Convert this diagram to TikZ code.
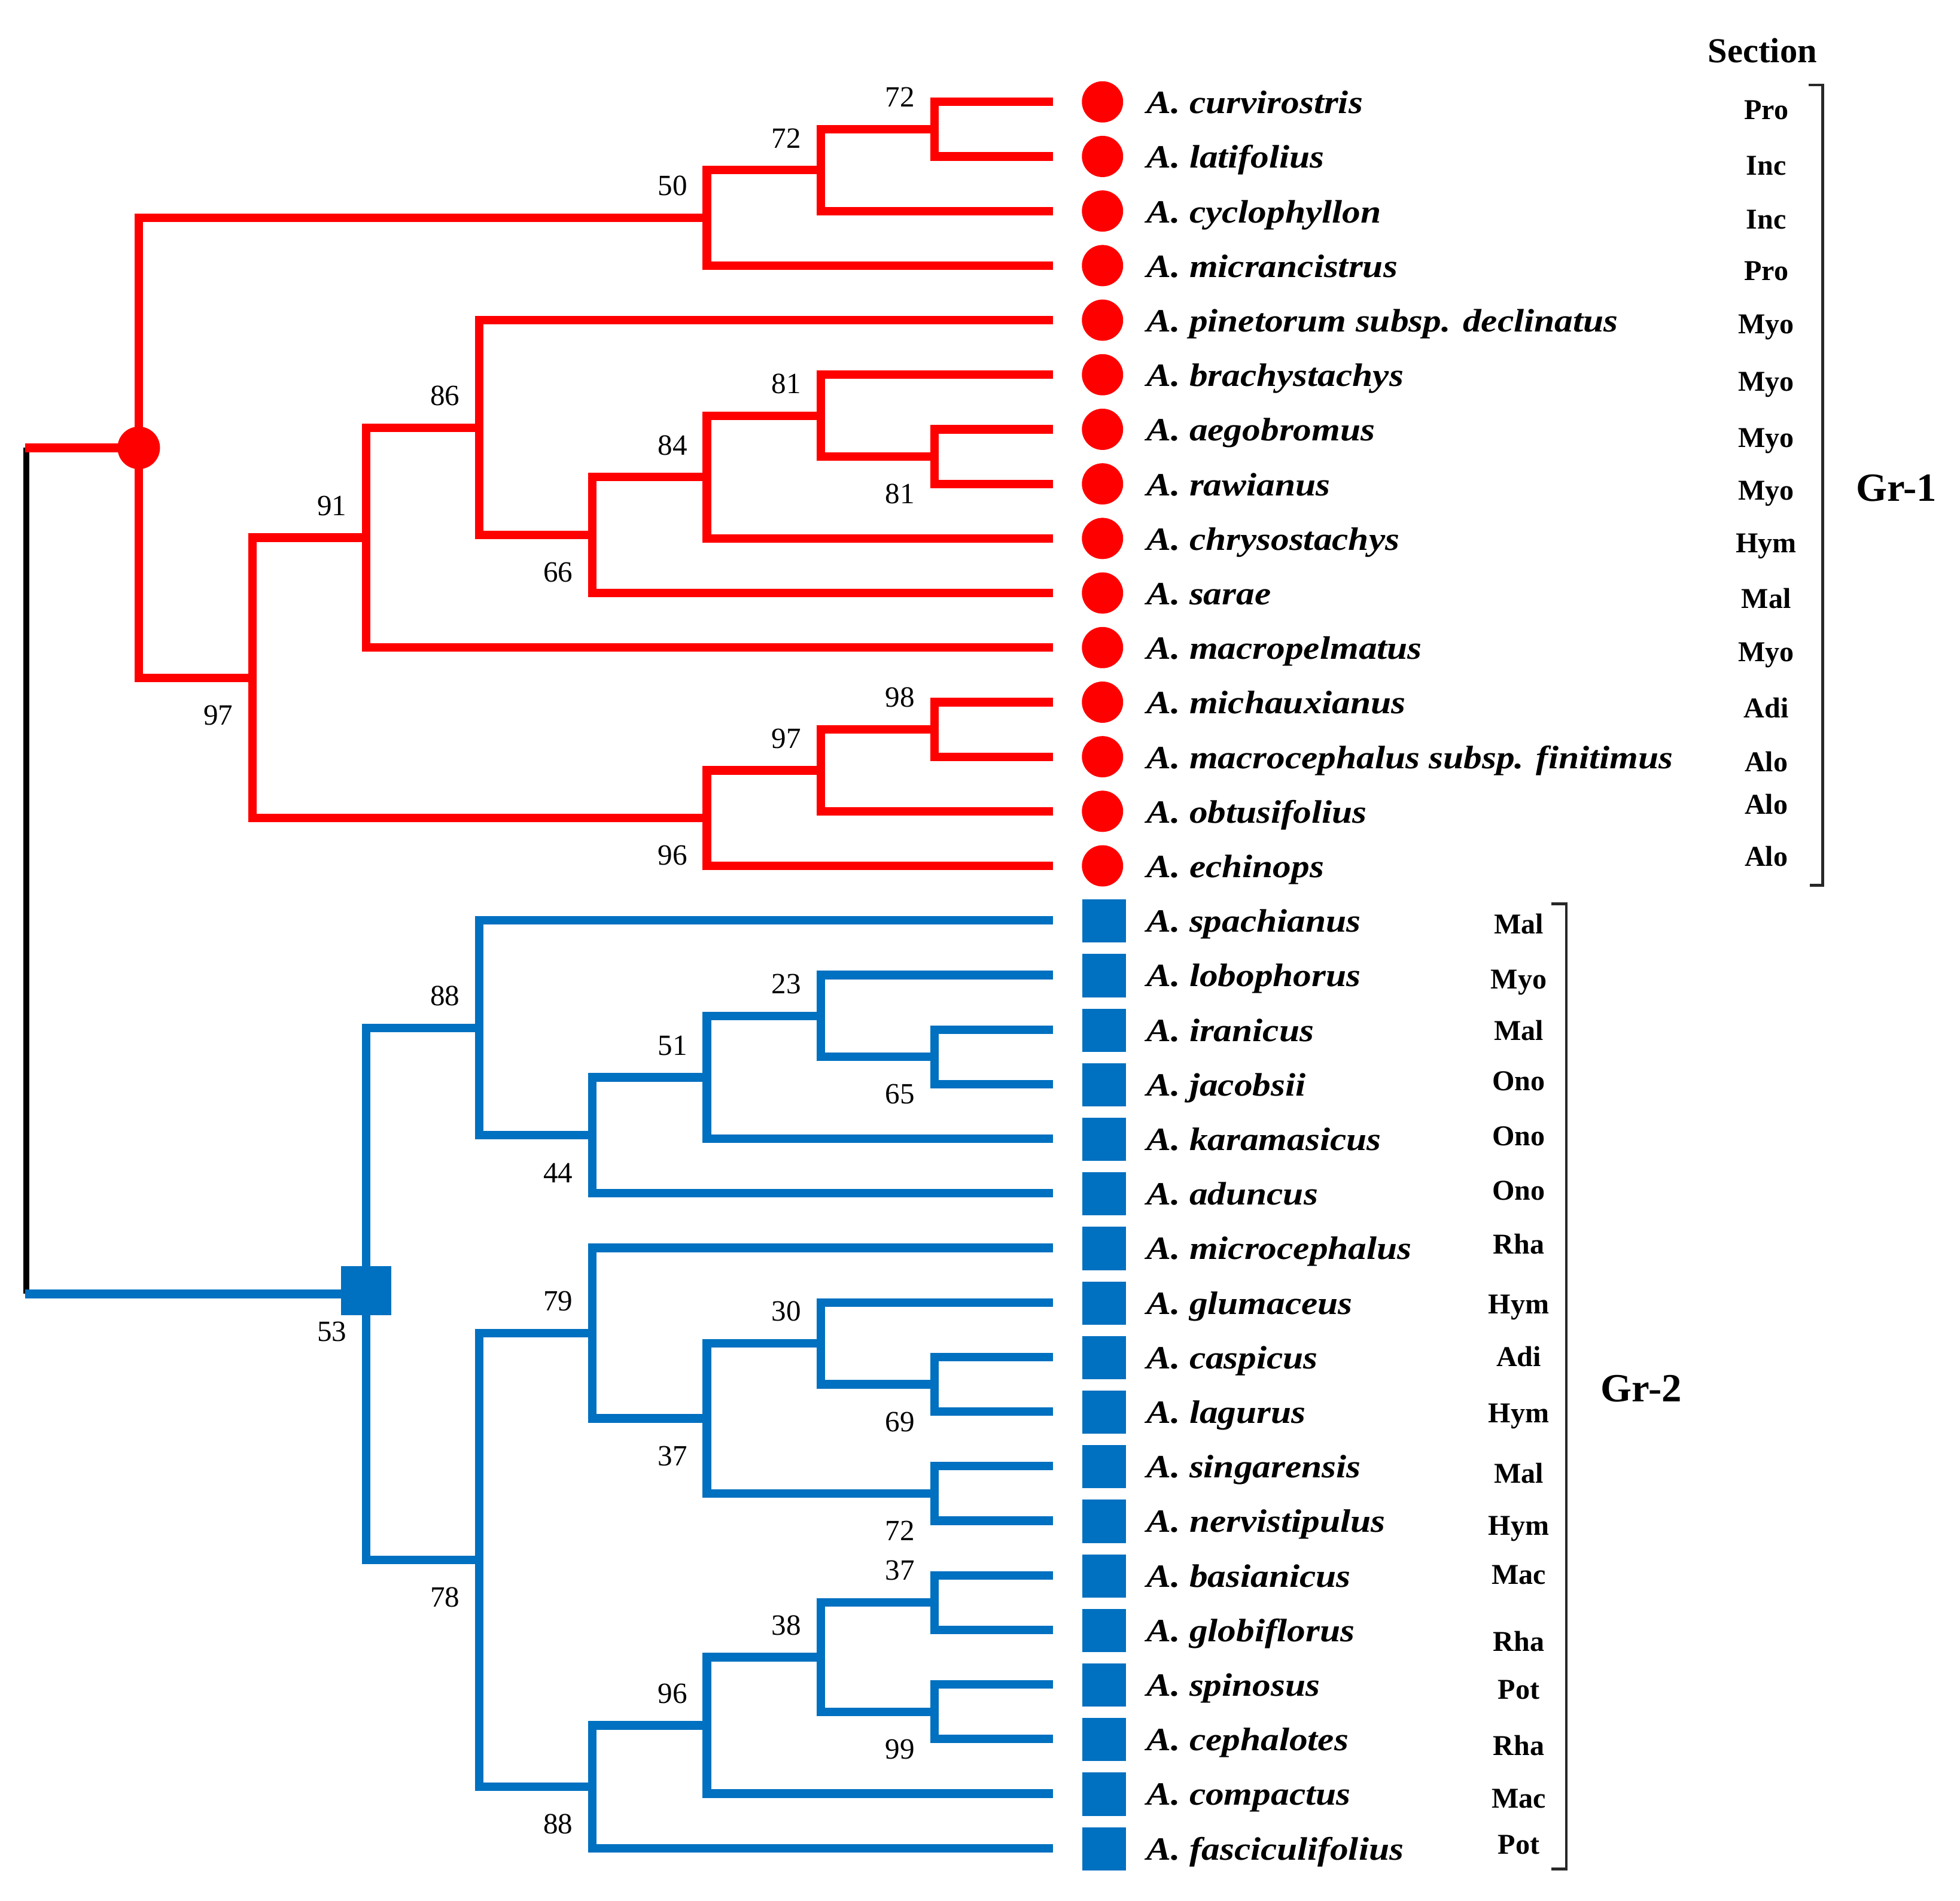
\documentclass[tikz,border=0pt]{standalone}
\usepackage{fontspec}
\setmainfont{Liberation Serif}
\definecolor{tred}{RGB}{255,0,0}
\definecolor{tblue}{RGB}{0,112,192}
\definecolor{brk}{RGB}{40,40,40}
\newcommand\bootA[3]{\node[bs] (#1) at ([shift={(-27.5,-25.5)}]#2) {#3};}
\newcommand\bootB[3]{\node[bs] (#1) at ([shift={(-27.5,30)}]#2) {#3};}
\begin{document}
\begin{tikzpicture}[x=1pt,y=-1pt,
  redbranch/.style={draw=tred, line width=6.8pt, line join=miter},
  bluebranch/.style={draw=tblue, line width=6.8pt, line join=miter},
  blackline/.style={draw=black, line width=5pt},
  bracketline/.style={draw=brk, line width=2.2pt},
  species/.style={anchor=base west, inner sep=0pt, xscale=1.13, font=\fontsize{26}{30}\selectfont\bfseries\itshape},
  bs/.style={inner sep=0pt, anchor=center, font=\fontsize{23.5}{26}\selectfont},
  sect/.style={inner sep=0pt, anchor=base, font=\fontsize{23}{26}\selectfont\bfseries},
  grp/.style={inner sep=0pt, anchor=base, font=\fontsize{32}{36}\selectfont\bfseries},
  redmark/.style={circle, fill=tred, inner sep=0pt, minimum size=33pt},
  bluemark/.style={rectangle, fill=tblue, inner sep=0pt, minimum width=35pt, minimum height=34.5pt}]
\useasboundingbox (0,0) rectangle (1568,1520.2);

% leaves
\foreach \i/\nm in {0/curvirostris,1/latifolius,2/cyclophyllon,3/micrancistrus,
  4/pinetorum subsp. declinatus,5/brachystachys,6/aegobromus,7/rawianus,
  8/chrysostachys,9/sarae,10/macropelmatus,11/michauxianus,
  12/macrocephalus subsp. finitimus,13/obtusifolius,14/echinops}{
  \pgfmathsetmacro\yy{81.5+43.65*\i}
  \coordinate (l\i) at (842.5,\yy);
  \node[redmark] (m\i) at (882,\yy) {};
  \node[species] (s\i) at (917,\yy+9.3) {A. \nm};
}
\foreach \i/\nm in {15/spachianus,16/lobophorus,17/iranicus,18/jacobsii,
  19/karamasicus,20/aduncus,21/microcephalus,22/glumaceus,23/caspicus,
  24/lagurus,25/singarensis,26/nervistipulus,27/basianicus,28/globiflorus,
  29/spinosus,30/cephalotes,31/compactus,32/fasciculifolius}{
  \pgfmathsetmacro\yy{81.5+43.65*\i}
  \coordinate (l\i) at (842.5,\yy);
  \node[bluemark] (m\i) at (883.5,\yy+0.5) {};
  \node[species] (s\i) at (917,\yy+9.3) {A. \nm};
}

% internal nodes, red group
\coordinate (a1) at (747.5,103.33);
\coordinate (a2) at (656.5,136.06);
\coordinate (a3) at (565.5,174.26);
\coordinate (b1) at (747.5,365.23);
\coordinate (b2) at (656.5,332.49);
\coordinate (b3) at (565.5,381.59);
\coordinate (b4) at (474,427.97);
\coordinate (b5) at (383.5,342.04);
\coordinate (b6) at (293,430.02);
\coordinate (c1) at (747.5,583.48);
\coordinate (c2) at (656.5,616.21);
\coordinate (c3) at (565.5,654.41);
\coordinate (d1) at (202,542.21);
\coordinate (rR) at (111,358.24);
% internal nodes, blue group
\coordinate (e1) at (747.5,845.38);
\coordinate (e2) at (656.5,812.64);
\coordinate (e3) at (565.5,861.74);
\coordinate (e4) at (474,908.12);
\coordinate (e5) at (383.5,822.19);
\coordinate (f1) at (747.5,1107.28);
\coordinate (f2) at (656.5,1074.54);
\coordinate (f3) at (747.5,1194.58);
\coordinate (f4) at (565.5,1134.56);
\coordinate (f5) at (474,1066.36);
\coordinate (g1) at (747.5,1281.88);
\coordinate (g2) at (747.5,1369.18);
\coordinate (g3) at (656.5,1325.53);
\coordinate (g4) at (565.5,1380.09);
\coordinate (g5) at (474,1429.2);
\coordinate (h1) at (383.5,1247.78);
\coordinate (rB) at (293,1034.99);
\coordinate (rootT) at (21,358.24);
\coordinate (rootB) at (21,1034.99);

% root
\draw[blackline] (rootT) -- (rootB);
\draw[redbranch] ([xshift=-1pt]rootT) -- (rR);
\draw[bluebranch] ([xshift=-1pt]rootB) -- (rB);

% red branches
\draw[redbranch] (a1) |- (l0);  \draw[redbranch] (a1) |- (l1);
\draw[redbranch] (a2) |- (a1);  \draw[redbranch] (a2) |- (l2);
\draw[redbranch] (a3) |- (a2);  \draw[redbranch] (a3) |- (l3);
\draw[redbranch] (b1) |- (l6);  \draw[redbranch] (b1) |- (l7);
\draw[redbranch] (b2) |- (l5);  \draw[redbranch] (b2) |- (b1);
\draw[redbranch] (b3) |- (b2);  \draw[redbranch] (b3) |- (l8);
\draw[redbranch] (b4) |- (b3);  \draw[redbranch] (b4) |- (l9);
\draw[redbranch] (b5) |- (l4);  \draw[redbranch] (b5) |- (b4);
\draw[redbranch] (b6) |- (b5);  \draw[redbranch] (b6) |- (l10);
\draw[redbranch] (c1) |- (l11); \draw[redbranch] (c1) |- (l12);
\draw[redbranch] (c2) |- (c1);  \draw[redbranch] (c2) |- (l13);
\draw[redbranch] (c3) |- (c2);  \draw[redbranch] (c3) |- (l14);
\draw[redbranch] (d1) |- (b6);  \draw[redbranch] (d1) |- (c3);
\draw[redbranch] (rR) |- (a3);  \draw[redbranch] (rR) |- (d1);

% blue branches
\draw[bluebranch] (e1) |- (l17); \draw[bluebranch] (e1) |- (l18);
\draw[bluebranch] (e2) |- (l16); \draw[bluebranch] (e2) |- (e1);
\draw[bluebranch] (e3) |- (e2);  \draw[bluebranch] (e3) |- (l19);
\draw[bluebranch] (e4) |- (e3);  \draw[bluebranch] (e4) |- (l20);
\draw[bluebranch] (e5) |- (l15); \draw[bluebranch] (e5) |- (e4);
\draw[bluebranch] (f1) |- (l23); \draw[bluebranch] (f1) |- (l24);
\draw[bluebranch] (f2) |- (l22); \draw[bluebranch] (f2) |- (f1);
\draw[bluebranch] (f3) |- (l25); \draw[bluebranch] (f3) |- (l26);
\draw[bluebranch] (f4) |- (f2);  \draw[bluebranch] (f4) |- (f3);
\draw[bluebranch] (f5) |- (l21); \draw[bluebranch] (f5) |- (f4);
\draw[bluebranch] (g1) |- (l27); \draw[bluebranch] (g1) |- (l28);
\draw[bluebranch] (g2) |- (l29); \draw[bluebranch] (g2) |- (l30);
\draw[bluebranch] (g3) |- (g1);  \draw[bluebranch] (g3) |- (g2);
\draw[bluebranch] (g4) |- (g3);  \draw[bluebranch] (g4) |- (l31);
\draw[bluebranch] (g5) |- (g4);  \draw[bluebranch] (g5) |- (l32);
\draw[bluebranch] (h1) |- (f5);  \draw[bluebranch] (h1) |- (g5);
\draw[bluebranch] (rB) |- (e5);  \draw[bluebranch] (rB) |- (h1);

% root markers
\node[circle, fill=tred, inner sep=0pt, minimum size=34pt] (rRmark) at (rR) {};
\node[rectangle, fill=tblue, inner sep=0pt, minimum width=40pt, minimum height=39pt] (rBmark) at (293,1032.5) {};

% bootstrap values
\bootA{ba1}{a1}{72} \bootA{ba2}{a2}{72} \bootA{ba3}{a3}{50}
\bootB{bb1}{b1}{81} \bootA{bb2}{b2}{81} \bootA{bb3}{b3}{84}
\bootB{bb4}{b4}{66} \bootA{bb5}{b5}{86} \bootA{bb6}{b6}{91}
\bootA{bc1}{c1}{98} \bootA{bc2}{c2}{97} \bootB{bc3}{c3}{96}
\bootB{bd1}{d1}{97}
\bootB{be1}{e1}{65} \bootA{be2}{e2}{23} \bootA{be3}{e3}{51}
\bootB{be4}{e4}{44} \bootA{be5}{e5}{88}
\bootB{bf1}{f1}{69} \bootA{bf2}{f2}{30} \bootB{bf3}{f3}{72}
\bootB{bf4}{f4}{37} \bootA{bf5}{f5}{79}
\bootA{bg1}{g1}{37} \bootB{bg2}{g2}{99} \bootA{bg3}{g3}{38}
\bootA{bg4}{g4}{96} \bootB{bg5}{g5}{88} \bootB{bh1}{h1}{78}
\bootB{brB}{rB}{53}

% section column
\node[sect, font=\fontsize{28}{32}\selectfont\bfseries] (sechead) at (1410,50) {Section};
\foreach \k/\t/\yc in {0/Pro/88.5,1/Inc/133,2/Inc/176,3/Pro/217,4/Myo/260,
  5/Myo/306,6/Myo/351,7/Myo/393,8/Hym/435,9/Mal/479.5,10/Myo/522,
  11/Adi/567,12/Alo/610,13/Alo/644,14/Alo/685.6}{
  \node[sect] (sec\k) at (1413,\yc+7) {\t};
}
\foreach \k/\t/\yc in {15/Mal/740,16/Myo/784,17/Mal/825,18/Ono/865.5,
  19/Ono/909.5,20/Ono/953,21/Rha/996,22/Hym/1044,23/Adi/1086,24/Hym/1131,
  25/Mal/1179.5,26/Hym/1221,27/Mac/1260,28/Rha/1313.6,29/Pot/1352,
  30/Rha/1397,31/Mac/1439,32/Pot/1476}{
  \node[sect] (sec\k) at (1215,\yc+7) {\t};
}

% group brackets
\coordinate (g1t) at (1458,68);  \coordinate (g1b) at (1458,708);
\coordinate (g1tl) at (1447,68); \coordinate (g1bl) at (1448,708);
\draw[bracketline] (g1tl) -- (g1t) -- (g1b) -- (g1bl);
\node[grp] (gr1) at (1517,401) {Gr-1};
\coordinate (g2t) at (1253,723);  \coordinate (g2b) at (1253,1495);
\coordinate (g2tl) at (1241,723); \coordinate (g2bl) at (1241,1495);
\draw[bracketline] (g2tl) -- (g2t) -- (g2b) -- (g2bl);
\node[grp] (gr2) at (1313,1121) {Gr-2};
\end{tikzpicture}
\end{document}
